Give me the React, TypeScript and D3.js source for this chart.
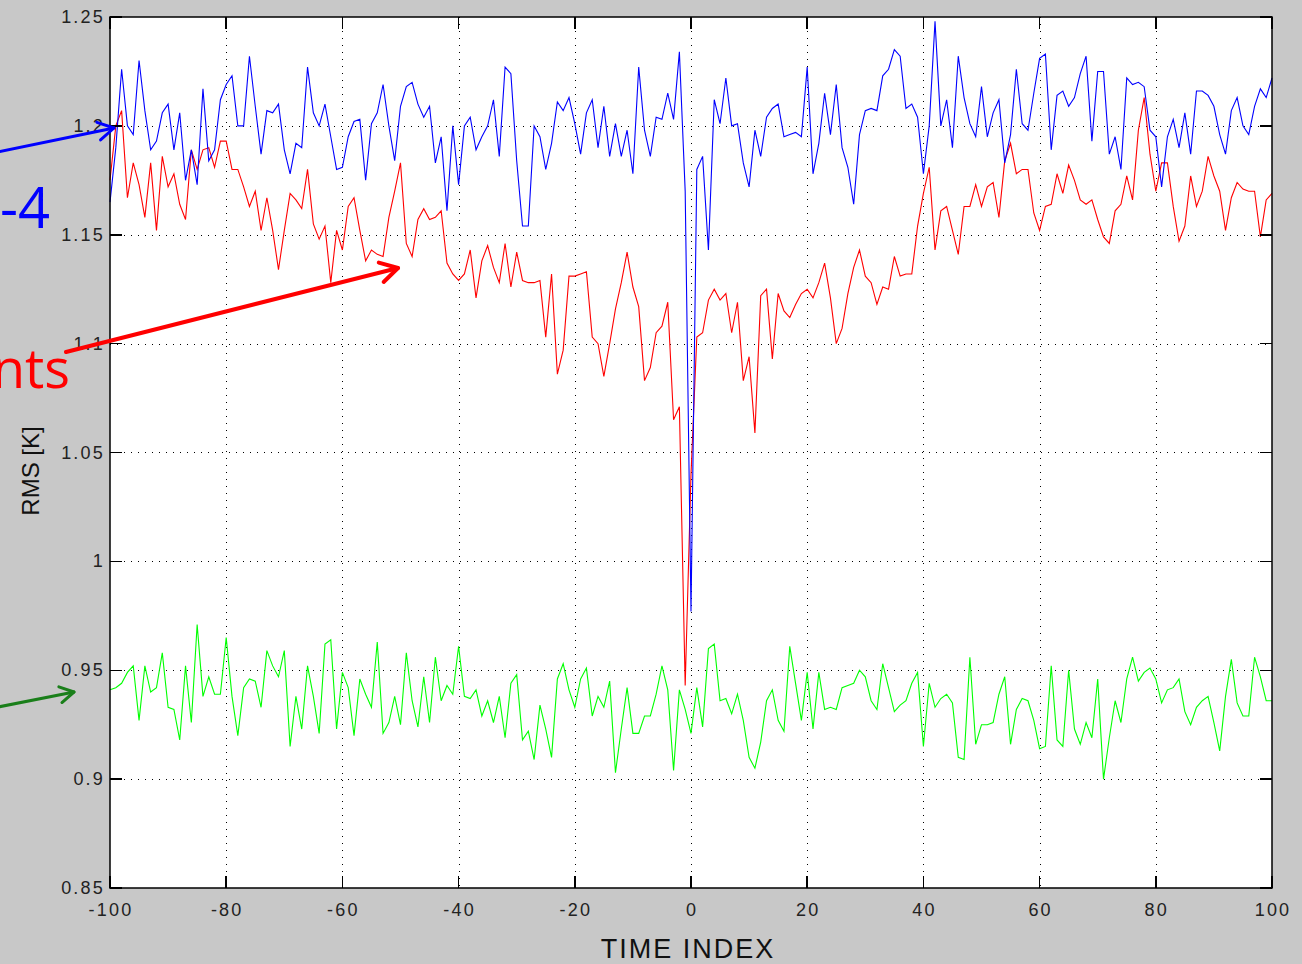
import React from 'react';
import * as d3 from 'd3';

const timeIndex = d3.range(-100, 101);

const blueValues = [
  1.165, 1.19, 1.226, 1.2, 1.196, 1.23, 1.207, 1.189, 1.193, 1.206,
  1.21, 1.189, 1.206, 1.175, 1.189, 1.173, 1.217, 1.184, 1.189, 1.212,
  1.219, 1.223, 1.2, 1.2, 1.232, 1.209, 1.187, 1.207, 1.206, 1.21,
  1.189, 1.178, 1.192, 1.19, 1.227, 1.206, 1.2, 1.21, 1.195, 1.18,
  1.181, 1.195, 1.202, 1.203, 1.175, 1.201, 1.206, 1.219, 1.2, 1.184,
  1.209, 1.218, 1.22, 1.21, 1.204, 1.209, 1.183, 1.195, 1.161, 1.2,
  1.173, 1.2, 1.204, 1.189, 1.195, 1.2, 1.212, 1.186, 1.227, 1.224,
  1.184, 1.154, 1.154, 1.2, 1.195, 1.18, 1.192, 1.211, 1.207, 1.213,
  1.201, 1.187, 1.206, 1.212, 1.19, 1.209, 1.186, 1.201, 1.186, 1.198,
  1.178, 1.227, 1.198, 1.186, 1.204, 1.203, 1.215, 1.203, 1.234, 1.17,
  0.977,
  1.18, 1.186, 1.143, 1.212, 1.201, 1.222, 1.2, 1.201, 1.183, 1.172,
  1.198, 1.186, 1.204, 1.208, 1.21, 1.195, 1.196, 1.197, 1.195, 1.227,
  1.178, 1.192, 1.215, 1.196, 1.219, 1.19, 1.181, 1.164, 1.196, 1.207,
  1.208, 1.207, 1.223, 1.226, 1.235, 1.232, 1.208, 1.21, 1.204, 1.178,
  1.2, 1.248, 1.2, 1.212, 1.19, 1.232, 1.213, 1.201, 1.195, 1.218,
  1.195, 1.206, 1.212, 1.183, 1.196, 1.226, 1.201, 1.198, 1.215, 1.231,
  1.233, 1.189, 1.214, 1.216, 1.209, 1.213, 1.224, 1.232, 1.193, 1.225,
  1.225, 1.187, 1.195, 1.18, 1.222, 1.219, 1.22, 1.218, 1.198, 1.195,
  1.172, 1.195, 1.203, 1.19, 1.206, 1.187, 1.216, 1.216, 1.214, 1.209,
  1.196, 1.187, 1.207, 1.213, 1.2, 1.196, 1.209, 1.217, 1.213, 1.222,
];

const redValues = [
  1.175, 1.2, 1.207, 1.167, 1.183, 1.173, 1.158, 1.183, 1.152, 1.186,
  1.172, 1.178, 1.164, 1.157, 1.189, 1.18, 1.189, 1.19, 1.181, 1.193,
  1.193, 1.18, 1.18, 1.172, 1.163, 1.17, 1.152, 1.167, 1.152, 1.134,
  1.152, 1.169, 1.166, 1.162, 1.18, 1.155, 1.148, 1.154, 1.128, 1.152,
  1.143, 1.163, 1.167, 1.152, 1.138, 1.143, 1.141, 1.14, 1.158, 1.17,
  1.183, 1.146, 1.14, 1.157, 1.162, 1.157, 1.158, 1.161, 1.137, 1.132,
  1.129, 1.132, 1.143, 1.121, 1.138, 1.145, 1.135, 1.128, 1.146, 1.126,
  1.142, 1.129, 1.128, 1.128, 1.129, 1.103, 1.132, 1.086, 1.097, 1.131,
  1.131, 1.132, 1.133, 1.103, 1.1, 1.085, 1.1, 1.116, 1.128, 1.142,
  1.126, 1.117, 1.083, 1.089, 1.105, 1.108, 1.119, 1.065, 1.071, 0.943,
  1.04,
  1.103, 1.105, 1.12, 1.125, 1.12, 1.123, 1.105, 1.119, 1.083, 1.094,
  1.059, 1.122, 1.125, 1.093, 1.123, 1.115, 1.112, 1.118, 1.123, 1.125,
  1.121, 1.128, 1.137, 1.121, 1.1, 1.107, 1.123, 1.135, 1.143, 1.131,
  1.128, 1.118, 1.126, 1.125, 1.14, 1.131, 1.132, 1.132, 1.154, 1.169,
  1.181, 1.143, 1.161, 1.163, 1.152, 1.141, 1.163, 1.163, 1.173, 1.163,
  1.172, 1.174, 1.158, 1.184, 1.192, 1.178, 1.18, 1.18, 1.16, 1.152,
  1.163, 1.164, 1.178, 1.169, 1.182, 1.175, 1.166, 1.164, 1.166, 1.157,
  1.149, 1.146, 1.161, 1.164, 1.177, 1.166, 1.198, 1.213, 1.187, 1.17,
  1.183, 1.183, 1.163, 1.147, 1.154, 1.177, 1.163, 1.17, 1.186, 1.177,
  1.17, 1.152, 1.167, 1.174, 1.171, 1.17, 1.17, 1.149, 1.166, 1.169,
];

const greenValues = [
  0.941, 0.942, 0.944, 0.949, 0.952, 0.927, 0.952, 0.94, 0.942, 0.958,
  0.933, 0.932, 0.918, 0.952, 0.926, 0.971, 0.938, 0.947, 0.939, 0.939,
  0.965, 0.938, 0.92, 0.942, 0.946, 0.945, 0.933, 0.959, 0.952, 0.947,
  0.959, 0.915, 0.938, 0.923, 0.952, 0.938, 0.921, 0.962, 0.964, 0.923,
  0.949, 0.942, 0.92, 0.946, 0.939, 0.933, 0.963, 0.921, 0.926, 0.938,
  0.925, 0.958, 0.936, 0.924, 0.947, 0.926, 0.956, 0.936, 0.943, 0.939,
  0.961, 0.938, 0.937, 0.941, 0.929, 0.936, 0.926, 0.938, 0.919, 0.944,
  0.948, 0.918, 0.922, 0.909, 0.934, 0.923, 0.91, 0.946, 0.953, 0.941,
  0.933, 0.946, 0.951, 0.929, 0.938, 0.933, 0.945, 0.903, 0.923, 0.942,
  0.921, 0.921, 0.929, 0.929, 0.939, 0.952, 0.941, 0.904, 0.941, 0.932,
  0.921,
  0.942, 0.924, 0.96, 0.962, 0.936, 0.937, 0.93, 0.939, 0.927, 0.91,
  0.905, 0.917, 0.936, 0.941, 0.927, 0.922, 0.961, 0.944, 0.927, 0.949,
  0.923, 0.949, 0.932, 0.933, 0.932, 0.942, 0.943, 0.944, 0.95, 0.947,
  0.936, 0.932, 0.953, 0.942, 0.931, 0.934, 0.936, 0.944, 0.949, 0.915,
  0.944, 0.933, 0.937, 0.939, 0.935, 0.91, 0.909, 0.956, 0.916, 0.925,
  0.925, 0.926, 0.939, 0.947, 0.916, 0.932, 0.937, 0.936, 0.927, 0.914,
  0.915, 0.952, 0.918, 0.915, 0.95, 0.923, 0.916, 0.926, 0.919, 0.946,
  0.9, 0.919, 0.936, 0.926, 0.946, 0.956, 0.945, 0.949, 0.951, 0.946,
  0.935, 0.941, 0.942, 0.946, 0.931, 0.925, 0.933, 0.936, 0.938, 0.926,
  0.913, 0.938, 0.955, 0.935, 0.929, 0.929, 0.956, 0.947, 0.936, 0.936,
];

const xTicks = [-100, -80, -60, -40, -20, 0, 20, 40, 60, 80, 100];
const yTicks = [0.85, 0.9, 0.95, 1, 1.05, 1.1, 1.15, 1.2, 1.25];

const W = 1302;
const H = 964;
const M = { left: 110, right: 1272, top: 17, bottom: 888 };
const BG = '#c8c8c8';
const FONT = '"Liberation Sans", Arial, Helvetica, sans-serif';

function Arrow({ x1, y1, x2, y2, color, width, head }: any) {
  const a = Math.atan2(y2 - y1, x2 - x1);
  const spread = Math.PI / 6;
  const hx1 = x2 - head * Math.cos(a - spread);
  const hy1 = y2 - head * Math.sin(a - spread);
  const hx2 = x2 - head * Math.cos(a + spread);
  const hy2 = y2 - head * Math.sin(a + spread);
  return (
    <g stroke={color} strokeWidth={width} fill="none" strokeLinecap="round" strokeLinejoin="round">
      <line x1={x1} y1={y1} x2={x2} y2={y2} />
      <polyline points={`${hx1},${hy1} ${x2},${y2} ${hx2},${hy2}`} />
    </g>
  );
}

export default function App() {
  const x = d3.scaleLinear().domain([-100, 100]).range([M.left, M.right]);
  const y = d3.scaleLinear().domain([0.85, 1.25]).range([M.bottom, M.top]);
  const line = d3
    .line<number>()
    .x((_, i) => x(timeIndex[i]))
    .y((d) => y(d));

  const tickLen = 12;

  return (
    <svg
      width={W}
      height={H}
      style={{ position: 'absolute', left: 0, top: 0, display: 'block' }}
    >
      <rect x={0} y={0} width={W} height={H} fill={BG} />
      <rect
        x={M.left}
        y={M.top}
        width={M.right - M.left}
        height={M.bottom - M.top}
        fill="#ffffff"
      />
      {/* grid */}
      <g stroke="#000" strokeWidth={1} strokeDasharray="1 6" shapeRendering="crispEdges">
        {xTicks
          .filter((t) => t > -100 && t < 100)
          .map((t) => (
            <line key={`gx${t}`} x1={Math.round(x(t)) + 0.5} x2={Math.round(x(t)) + 0.5} y1={M.top} y2={M.bottom} />
          ))}
        {yTicks
          .filter((t) => t > 0.85 && t < 1.25)
          .map((t) => (
            <line key={`gy${t}`} x1={M.left} x2={M.right} y1={Math.round(y(t)) + 0.5} y2={Math.round(y(t)) + 0.5} />
          ))}
      </g>
      {/* data */}
      <g fill="none" strokeWidth={1.1} strokeLinejoin="miter">
        <path d={line(greenValues) || ''} stroke="#00ff00" />
        <path d={line(redValues) || ''} stroke="#ff0000" />
        <path d={line(blueValues) || ''} stroke="#0000ff" />
      </g>
      {/* ticks */}
      <g stroke="#000" strokeWidth={1.5} shapeRendering="crispEdges">
        {xTicks.map((t) => (
          <g key={`tx${t}`}>
            <line x1={x(t)} x2={x(t)} y1={M.bottom} y2={M.bottom - tickLen} />
            <line x1={x(t)} x2={x(t)} y1={M.top} y2={M.top + tickLen} />
          </g>
        ))}
        {yTicks.map((t) => (
          <g key={`ty${t}`}>
            <line x1={M.left} x2={M.left + tickLen} y1={y(t)} y2={y(t)} />
            <line x1={M.right} x2={M.right - tickLen} y1={y(t)} y2={y(t)} />
          </g>
        ))}
      </g>
      <rect
        x={M.left}
        y={M.top}
        width={M.right - M.left}
        height={M.bottom - M.top}
        fill="none"
        stroke="#000"
        strokeWidth={1.5}
      />
      {/* tick labels */}
      <g fontFamily={FONT} fontSize={18} fill="#222" letterSpacing={2.2}>
        {xTicks.map((t) => (
          <text key={`lx${t}`} x={x(t) + 1} y={916} textAnchor="middle">
            {String(t)}
          </text>
        ))}
        {yTicks.map((t) => (
          <text key={`ly${t}`} x={105} y={y(t) + 6} textAnchor="end">
            {String(t)}
          </text>
        ))}
      </g>
      {/* axis titles */}
      <text
        x={688}
        y={958}
        textAnchor="middle"
        fontFamily={FONT}
        fontSize={27}
        letterSpacing={2}
        fill="#111"
      >
        TIME INDEX
      </text>
      <text
        transform="translate(39,471) rotate(-90)"
        textAnchor="middle"
        fontFamily={FONT}
        fontSize={24}
        fill="#111"
      >
        RMS [K]
      </text>
      {/* annotations */}
      <text x={50} y={228} textAnchor="end" fontFamily='"Open Sans", "Noto Sans", sans-serif' fontSize={56} fill="#0000ff">
        -4
      </text>
      <text x={70} y={388} textAnchor="end" fontFamily='"Open Sans", "Noto Sans", sans-serif' fontSize={54} fill="#ff0000">
        nts
      </text>
      <Arrow x1={-2} y1={152} x2={114} y2={128} color="#0000ff" width={3} head={18} />
      <Arrow x1={66} y1={352} x2={398} y2={268} color="#ff0000" width={4} head={20} />
      <Arrow x1={-2} y1={707} x2={74} y2={692} color="#1a7f1a" width={3} head={16} />
    </svg>
  );
}
